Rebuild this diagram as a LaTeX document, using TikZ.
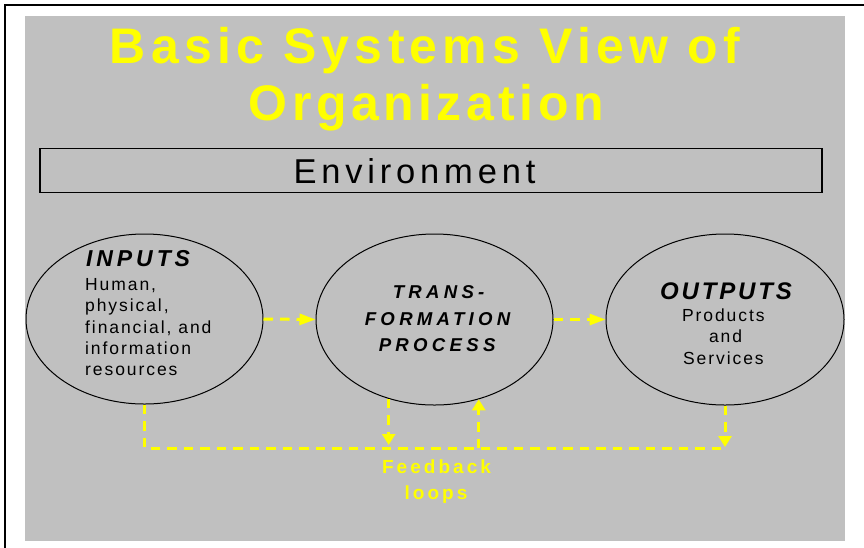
\documentclass[tikz,border=0pt]{standalone}
\usepackage{fontspec}
\setmainfont{Liberation Sans}
\newfontfamily\ttlf[LetterSpace=10.5]{Liberation Sans}
\newfontfamily\ttlfb[LetterSpace=9]{Liberation Sans}
\newfontfamily\envf[LetterSpace=14]{Liberation Sans}
\newfontfamily\bodyf[LetterSpace=11]{Liberation Sans}
\newfontfamily\headf[LetterSpace=17]{Liberation Sans}
\newfontfamily\outf[LetterSpace=12]{Liberation Sans}
\newfontfamily\transf[LetterSpace=23]{Liberation Sans}
\newfontfamily\fbf[LetterSpace=16]{Liberation Sans}
\usetikzlibrary{arrows.meta,shapes.geometric}
\definecolor{bg}{HTML}{C0C0C0}
\definecolor{ylw}{HTML}{FFFF00}
\begin{document}
\begin{tikzpicture}[x=1pt,y=-1pt,
  oval/.style={ellipse, draw=black, line width=1pt, inner sep=0pt},
  fb/.style={draw=ylw, line width=3pt, dash pattern=on 9.5pt off 7pt},
  harrow/.style={-{Triangle[length=16pt,width=11pt]}},
  varrow/.style={-{Triangle[length=11pt,width=13pt]}},
  txt/.style={inner sep=0pt, anchor=base},
  ltxt/.style={inner sep=0pt, anchor=base west},
  title/.style={ltxt, text=ylw, font=\ttlf\bfseries\fontsize{50}{50}\selectfont},
  titleb/.style={ltxt, text=ylw, font=\ttlfb\bfseries\fontsize{50}{50}\selectfont},
  body/.style={ltxt, font=\bodyf\fontsize{17.5}{17.5}\selectfont},
  cbody/.style={txt, font=\bodyf\fontsize{17.5}{17.5}\selectfont},
  trans/.style={txt, font=\transf\bfseries\itshape\fontsize{18.6}{18.6}\selectfont},
  fbtext/.style={txt, text=ylw, font=\fbf\bfseries\fontsize{19}{19}\selectfont}]
\useasboundingbox (0,0) rectangle (864,547);
\fill[white] (0,0) rectangle (864,547);
\clip (0,0) rectangle (864,547);
\draw[line width=2pt] (5,560) -- (5,5) -- (880,5);
\fill[bg] (25,16) rectangle (844.5,541);

% title
\node[title] (t1) at (109.6,63) {Basic Systems View of};
\node[titleb] (t2) at (248.5,120) {Organization};

% environment
\node[draw=black, line width=1.5pt, minimum width=782pt, minimum height=44pt, inner sep=0pt] (env) at (431,170.3) {};
\node[ltxt, font=\envf\fontsize{34.5}{34.5}\selectfont] (envtext) at (293.3,183.7) {Environment};

% ellipses
\node[oval, minimum width=237pt, minimum height=170pt] (inputs) at (144.5,319) {};
\node[oval, minimum width=237pt, minimum height=171pt] (trans) at (434.5,319.5) {};
\node[oval, minimum width=238pt, minimum height=171pt] (outputs) at (725,319.5) {};

% inputs text
\node[ltxt, font=\headf\bfseries\itshape\fontsize{23}{23}\selectfont] (inhead) at (86,266.7) {INPUTS};
\node[body] (in1) at (85,290) {Human,};
\node[body] (in2) at (85,311.5) {physical,};
\node[body] (in3) at (85,333) {financial, and};
\node[body] (in4) at (85,354.3) {information};
\node[body] (in5) at (85,375.7) {resources};

% transformation text
\node[trans] (tr1) at (438.6,298.3) {TRANS-};
\node[trans] (tr2) at (437.6,325) {FORMATION};
\node[trans] (tr3) at (437.1,351.7) {PROCESS};

% outputs text
\node[txt, font=\outf\bfseries\itshape\fontsize{24}{24}\selectfont] (outhead) at (726,299) {OUTPUTS};
\node[cbody] (out1) at (723.3,321.7) {Products};
\node[cbody] (out2) at (725.6,342.7) {and};
\node[cbody] (out3) at (723.4,364) {Services};

% forward arrows
\draw[fb, harrow] (inputs.east) -- (trans.west);
\draw[fb, harrow] (trans.east) -- (outputs.west);

% feedback loops
\coordinate (fbL) at (144.5,448);
\coordinate (fbR) at (725,448);
\draw[fb] (inputs.south) -- (fbL) -- (fbR);
\draw[fb, varrow] (outputs.south) -- ([yshift=1pt]fbR);
\draw[fb, varrow] (trans.240.7) -- ([yshift=3pt]trans.240.7 |- fbL);
\draw[fb, varrow] (trans.299.3 |- fbL) -- (trans.299.3);

\node[fbtext] (fb1) at (436.5,473.3) {Feedback};
\node[fbtext] (fb2) at (436,499) {loops};
\end{tikzpicture}
\end{document}
